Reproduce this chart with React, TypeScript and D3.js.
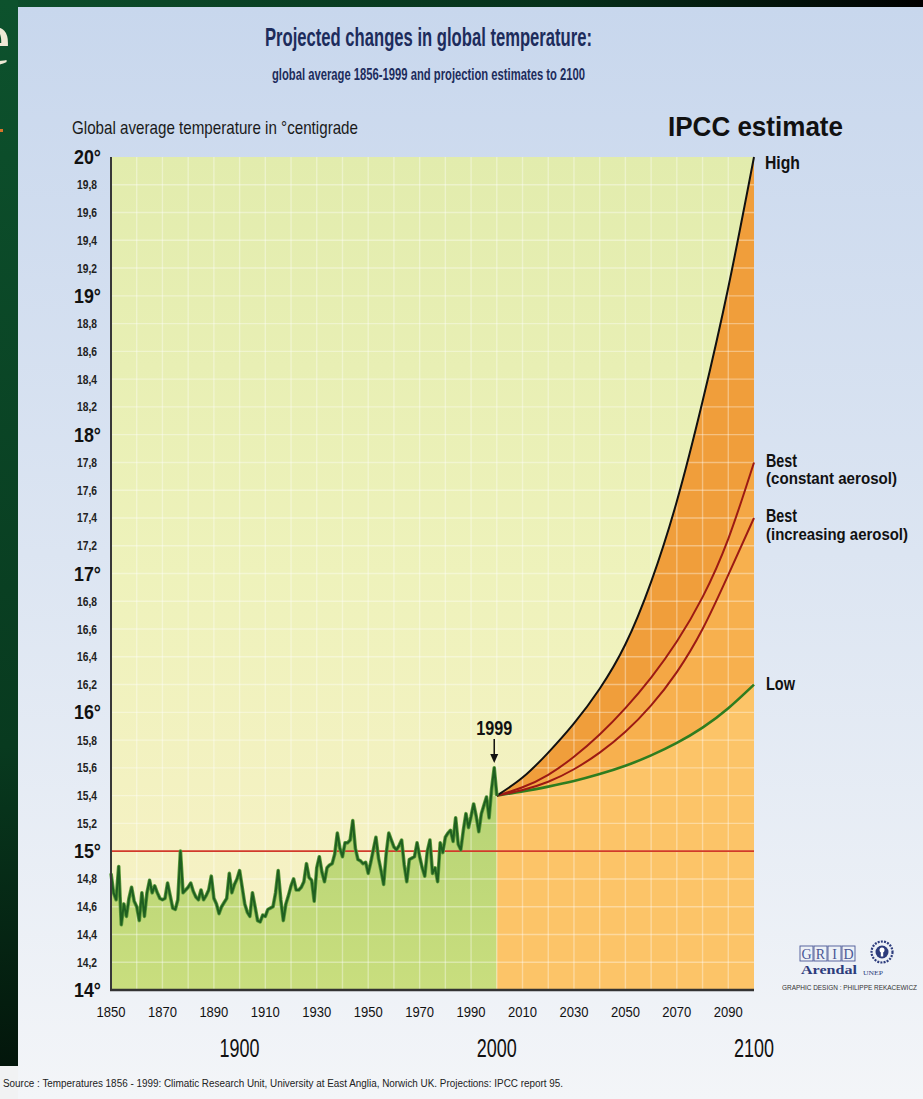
import React from "react";
import * as d3 from "d3";

const W = 923;
const H = 1099;

// Historical global average temperature, one value per year from 1850 to 2000
const histStartYear = 1850;
const histTemps = [
  14.84, 14.70, 14.65, 14.89, 14.47, 14.62, 14.53, 14.66, 14.74, 14.64,
  14.60, 14.50, 14.70, 14.53, 14.70, 14.79, 14.70, 14.75, 14.70, 14.66,
  14.65, 14.66, 14.77, 14.68, 14.59, 14.58, 14.65, 15.00, 14.70, 14.72,
  14.74, 14.77, 14.71, 14.67, 14.65, 14.72, 14.65, 14.68, 14.72, 14.82,
  14.66, 14.62, 14.55, 14.60, 14.63, 14.66, 14.84, 14.70, 14.76, 14.80,
  14.86, 14.74, 14.62, 14.56, 14.53, 14.70, 14.60, 14.50, 14.49, 14.54,
  14.53, 14.58, 14.59, 14.60, 14.70, 14.86, 14.65, 14.50, 14.62, 14.68,
  14.75, 14.80, 14.72, 14.72, 14.74, 14.78, 14.91, 14.81, 14.79, 14.64,
  14.88, 14.96, 14.85, 14.78, 14.88, 14.90, 14.91, 14.98, 15.13, 15.02,
  14.96, 15.06, 15.06, 15.08, 15.22, 15.02, 14.94, 14.93, 14.91, 14.92,
  14.84, 14.92, 15.01, 15.10, 14.95, 14.86, 14.76, 14.98, 15.13, 15.08,
  15.03, 15.01, 15.04, 15.08, 14.90, 14.78, 14.94, 14.95, 14.96, 15.06,
  14.96, 14.88, 14.82, 15.00, 15.08, 14.84, 14.88, 14.78, 15.06, 14.99,
  15.10, 15.13, 15.15, 15.07, 15.24, 15.05, 15.01, 15.15, 15.27, 15.17,
  15.25, 15.34, 15.25, 15.14, 15.27, 15.33, 15.39, 15.24, 15.45, 15.60,
  15.40,
];

// IPCC projections 2000-2100
const projYears = [2000, 2010, 2020, 2030, 2040, 2050, 2060, 2070, 2080, 2090, 2100];
const highTemps = [15.40, 15.53, 15.71, 15.92, 16.17, 16.49, 16.94, 17.52, 18.24, 19.06, 20.0];
const bestConstTemps = [15.40, 15.46, 15.55, 15.68, 15.84, 16.03, 16.25, 16.51, 16.83, 17.25, 17.80];
const bestIncTemps = [15.40, 15.44, 15.50, 15.59, 15.71, 15.86, 16.05, 16.29, 16.60, 16.99, 17.40];
const lowTemps = [15.40, 15.43, 15.465, 15.505, 15.555, 15.615, 15.69, 15.78, 15.89, 16.03, 16.20];

const referenceTemp = 15;
const annotatedYear = 1999;

// Axis ticks
const majorTicks = [14, 15, 16, 17, 18, 19, 20];
const majorLabels = ["14°", "15°", "16°", "17°", "18°", "19°", "20°"];
const minorTicks = [
  14.2, 14.4, 14.6, 14.8, 15.2, 15.4, 15.6, 15.8, 16.2, 16.4, 16.6, 16.8,
  17.2, 17.4, 17.6, 17.8, 18.2, 18.4, 18.6, 18.8, 19.2, 19.4, 19.6, 19.8,
];
const minorLabels = [
  "14,2", "14,4", "14,6", "14,8", "15,2", "15,4", "15,6", "15,8", "16,2", "16,4", "16,6", "16,8",
  "17,2", "17,4", "17,6", "17,8", "18,2", "18,4", "18,6", "18,8", "19,2", "19,4", "19,6", "19,8",
];
const xSmallTicks = [1850, 1870, 1890, 1910, 1930, 1950, 1970, 1990, 2010, 2030, 2050, 2070, 2090];
const xSmallLabels = ["1850", "1870", "1890", "1910", "1930", "1950", "1970", "1990", "2010", "2030", "2050", "2070", "2090"];
const xBigTicks = [1900, 2000, 2100];
const xBigLabels = ["1900", "2000", "2100"];
const gridYears = [1860, 1870, 1880, 1890, 1900, 1910, 1920, 1930, 1940, 1950, 1960, 1970, 1980, 1990, 2000, 2010, 2020, 2030, 2040, 2050, 2060, 2070, 2080, 2090];

const FONT = "'Liberation Sans', Arial, Helvetica, sans-serif";

function CText(props: any) {
  const { w, children, ...rest } = props;
  return (
    <text fontFamily={FONT} textLength={w} lengthAdjust="spacingAndGlyphs" {...rest}>
      {children}
    </text>
  );
}

export default function App() {
  const x = d3.scaleLinear().domain([1850, 2100]).range([111, 754]);
  const y = d3.scaleLinear().domain([14, 20]).range([990, 157]);

  const hist = histTemps.map((t, i) => ({ year: histStartYear + i, t }));
  const histLine = d3.line<any>().x((d) => x(d.year)).y((d) => y(d.t))(hist) || "";
  const histArea =
    d3.area<any>().x((d) => x(d.year)).y0(y(14)).y1((d) => y(d.t))(hist) || "";

  const curve = d3.curveNatural;
  const mk = (arr: number[]) => projYears.map((yr, i) => ({ yr, v: arr[i] }));
  const lineP = (arr: number[]) =>
    d3.line<any>().x((d) => x(d.yr)).y((d) => y(d.v)).curve(curve)(mk(arr)) || "";
  const band = (lo: number[] | null, hi: number[]) => {
    const pts = projYears.map((yr, i) => ({ yr, lo: lo ? lo[i] : 14, hi: hi[i] }));
    return (
      d3
        .area<any>()
        .x((d) => x(d.yr))
        .y0((d) => y(d.lo))
        .y1((d) => y(d.hi))
        .curve(curve)(pts) || ""
    );
  };

  const allGridTemps = [...majorTicks, ...minorTicks].filter((v) => v > 14 && v < 20);
  const ax = x(annotatedYear);

  return (
    <svg
      width={W}
      height={H}
      style={{ position: "fixed", left: 0, top: 0 }}
      xmlns="http://www.w3.org/2000/svg"
    >
      <defs>
        <linearGradient id="panelBg" x1="0" y1="0" x2="0" y2="1">
          <stop offset="0" stopColor="#c8d7ed" />
          <stop offset="0.5" stopColor="#dce5f2" />
          <stop offset="1" stopColor="#f3f5f8" />
        </linearGradient>
        <linearGradient id="topStrip" x1="0" y1="0" x2="1" y2="0">
          <stop offset="0" stopColor="#0d4f2c" />
          <stop offset="0.6" stopColor="#06311b" />
          <stop offset="1" stopColor="#000000" />
        </linearGradient>
        <linearGradient id="leftStrip" x1="0" y1="0" x2="0" y2="1">
          <stop offset="0" stopColor="#0d522d" />
          <stop offset="0.7" stopColor="#083a1f" />
          <stop offset="1" stopColor="#03160b" />
        </linearGradient>
        <linearGradient id="plotBg" x1="0" y1="0" x2="0" y2="1">
          <stop offset="0" stopColor="#e2ecad" />
          <stop offset="0.5" stopColor="#eef2bb" />
          <stop offset="1" stopColor="#f8f1c7" />
        </linearGradient>
        <linearGradient id="greenFill" x1="0" y1="0" x2="0" y2="1">
          <stop offset="0" stopColor="#b4d274" />
          <stop offset="1" stopColor="#c9de7e" />
        </linearGradient>
      </defs>

      {/* slide background */}
      <rect x={0} y={0} width={W} height={H} fill="#f1f2f3" />
      <rect x={18} y={7} width={W - 18} height={H - 7} fill="url(#panelBg)" />
      <rect x={0} y={0} width={W} height={7} fill="url(#topStrip)" />
      <rect x={0} y={0} width={18} height={1066} fill="url(#leftStrip)" />
      <text x={-24} y={64} fontFamily="'Liberation Serif', 'DejaVu Serif', serif" fontSize={78} fill="#efe9d6">
        e
      </text>
      <rect x={0} y={129} width={3} height={3} fill="#d8742a" />

      {/* titles */}
      <CText x={265} y={46} w={327} fontSize={25} fontWeight="bold" fill="#1d2c5c">
        Projected changes in global temperature:
      </CText>
      <CText x={272} y={80} w={313} fontSize={16} fontWeight="bold" fill="#1d2c5c">
        global average 1856-1999 and projection estimates to 2100
      </CText>
      <CText x={72} y={134} w={286} fontSize={19} fill="#1a1a1a">
        Global average temperature in °centigrade
      </CText>
      <CText x={668} y={136} w={175} fontSize={27} fontWeight="bold" fill="#111">
        IPCC estimate
      </CText>

      {/* plot background */}
      <rect x={x(1850)} y={y(20)} width={x(2100) - x(1850)} height={y(14) - y(20)} fill="url(#plotBg)" />

      {/* historical area */}
      <path d={histArea} fill="url(#greenFill)" />

      {/* projection bands */}
      <path d={band(null, lowTemps)} fill="#fcc468" />
      <path d={band(lowTemps, bestIncTemps)} fill="#f7b04e" />
      <path d={band(bestIncTemps, bestConstTemps)} fill="#f4a745" />
      <path d={band(bestConstTemps, highTemps)} fill="#f09e3b" />

      {/* grid */}
      <g stroke="#ffffff" strokeOpacity={0.36} strokeWidth={1.4}>
        {gridYears.map((g) => (
          <line key={"gx" + g} x1={x(g)} x2={x(g)} y1={y(20)} y2={y(14)} />
        ))}
        {allGridTemps.map((g) => (
          <line key={"gy" + g} x1={x(1850)} x2={x(2100)} y1={y(g)} y2={y(g)} />
        ))}
      </g>

      {/* 15 degree reference */}
      <line x1={x(1850)} x2={x(2100)} y1={y(referenceTemp)} y2={y(referenceTemp)} stroke="#d13a2a" strokeWidth={1.6} />

      {/* projection curves */}
      <path d={lineP(lowTemps)} fill="none" stroke="#2f7d1f" strokeWidth={2.6} />
      <path d={lineP(bestIncTemps)} fill="none" stroke="#9c1a14" strokeWidth={2} />
      <path d={lineP(bestConstTemps)} fill="none" stroke="#9c1a14" strokeWidth={2} />
      <path d={lineP(highTemps)} fill="none" stroke="#111111" strokeWidth={2} />

      {/* historical line */}
      <path d={histLine} fill="none" stroke="#5c9a3c" strokeWidth={3.6} strokeLinejoin="round" />
      <path d={histLine} fill="none" stroke="#1f5f20" strokeWidth={2} strokeLinejoin="round" />

      {/* 1999 annotation */}
      <CText x={ax} y={735} w={36} fontSize={20} fontWeight="bold" fill="#111" textAnchor="middle">
        1999
      </CText>
      <line x1={ax} x2={ax} y1={739} y2={757} stroke="#111" strokeWidth={1.5} />
      <path d={`M${ax - 4},${754} L${ax + 4},${754} L${ax},${763} Z`} fill="#111" />

      {/* axes */}
      <line x1={x(1850)} x2={x(1850)} y1={y(20)} y2={y(14)} stroke="#383838" strokeWidth={2} />
      <line x1={x(1850) - 1} x2={x(2100)} y1={y(14)} y2={y(14)} stroke="#333" strokeWidth={2.5} />

      {/* y labels */}
      {majorTicks.map((v, i) => (
        <CText key={"M" + v} x={101} y={y(v) + 7} w={27} fontSize={20} fontWeight="bold" fill="#111" textAnchor="end">
          {majorLabels[i]}
        </CText>
      ))}
      {minorTicks.map((v, i) => (
        <CText key={"m" + v} x={97} y={y(v) + 4.5} w={20} fontSize={12.5} fontWeight="bold" fill="#222" textAnchor="end">
          {minorLabels[i]}
        </CText>
      ))}

      {/* x labels */}
      {xSmallTicks.map((v, i) => (
        <CText key={"xs" + v} x={x(v)} y={1017} w={29} fontSize={15} fill="#111" textAnchor="middle">
          {xSmallLabels[i]}
        </CText>
      ))}
      {xBigTicks.map((v, i) => (
        <CText key={"xb" + v} x={x(v)} y={1057} w={40} fontSize={26} fill="#111" textAnchor="middle">
          {xBigLabels[i]}
        </CText>
      ))}

      {/* right labels */}
      <g fill="#111" fontWeight="bold">
        <CText x={765} y={169} w={35} fontSize={18}>High</CText>
        <CText x={766} y={467} w={31} fontSize={18}>Best</CText>
        <CText x={766} y={484} w={131} fontSize={17}>(constant aerosol)</CText>
        <CText x={766} y={522} w={31} fontSize={18}>Best</CText>
        <CText x={766} y={540} w={142} fontSize={16}>(increasing aerosol)</CText>
        <CText x={766} y={690} w={29} fontSize={18}>Low</CText>
      </g>

      {/* logo */}
      <g>
        {["G", "R", "I", "D"].map((c, i) => (
          <g key={c}>
            <rect x={800 + i * 14} y={946} width={13} height={15} fill="none" stroke="#4a5796" strokeWidth={0.9} />
            <text x={806.5 + i * 14} y={959} fontFamily="'Liberation Serif', serif" fontSize={14} fill="#4a5796" textAnchor="middle">
              {c}
            </text>
          </g>
        ))}
        <circle cx={882} cy={952} r={10.5} fill="none" stroke="#2d3c7c" strokeWidth={2.2} strokeDasharray="2 1.2" />
        <circle cx={882} cy={952} r={6.5} fill="#2d3c7c" />
        <circle cx={882} cy={950} r={2.5} fill="#ffffff" />
        <rect x={880.8} y={952} width={2.4} height={4.5} fill="#ffffff" />
        <CText x={801} y={974} w={56} fontSize={12} fontWeight="bold" fill="#2d3c7c" fontFamily="'Liberation Serif', serif">
          Arendal
        </CText>
        <CText x={863} y={975} w={20} fontSize={7} fill="#2d3c7c" fontFamily="'Liberation Serif', serif">
          UNEP
        </CText>
        <CText x={782} y={990} w={135} fontSize={6.5} fill="#333">
          GRAPHIC DESIGN : PHILIPPE REKACEWICZ
        </CText>
      </g>

      {/* source */}
      <CText x={3} y={1087} w={560} fontSize={10} fill="#222">
        Source : Temperatures 1856 - 1999: Climatic Research Unit, University at East Anglia, Norwich UK. Projections: IPCC report 95.
      </CText>
    </svg>
  );
}
